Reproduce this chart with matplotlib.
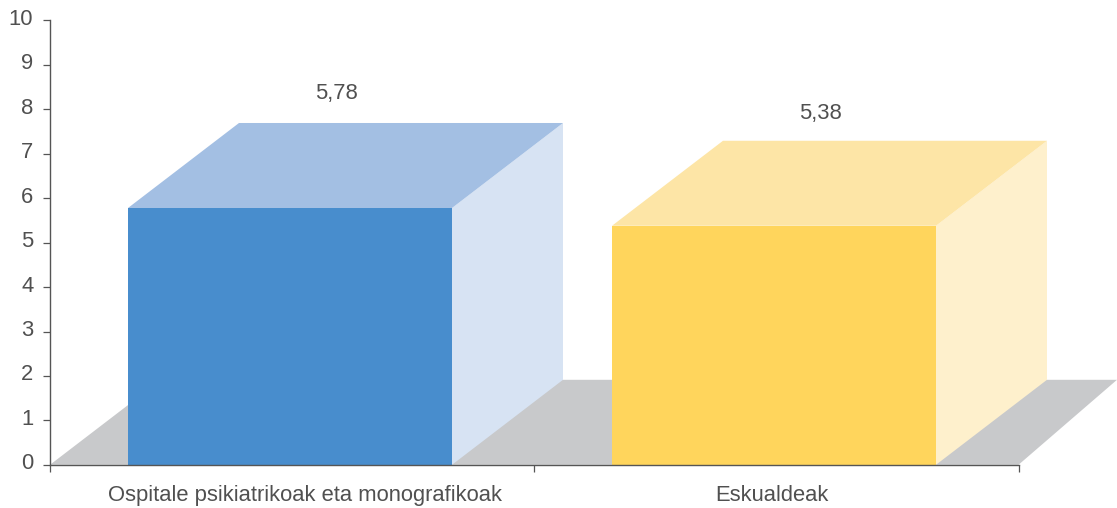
import matplotlib
matplotlib.use("Agg")
import matplotlib.pyplot as plt
from matplotlib.patches import Polygon
from matplotlib.transforms import ScaledTranslation

categories = ["Ospitale psikiatrikoak eta monografikoak", "Eskualdeak"]
values = [5.78, 5.38]
value_labels = ["5,78", "5,38"]
yticks = list(range(0, 11))

front_colors = ["#488DCD", "#FFD55C"]
top_colors = ["#A3BFE3", "#FDE5A6"]
side_colors = ["#D7E3F3", "#FEF0CC"]
floor_color = "#C8C9CB"
ink = "#505050"
axis_color = "#555555"

W, H = 1117, 508
x0, x1, y0, y1 = 50, 1018.5, 464.8, 20.5

plt.rcParams["font.family"] = ["Liberation Sans", "DejaVu Sans"]
fig = plt.figure(figsize=(W / 100, H / 100), dpi=100)
ax = fig.add_axes([x0 / W, 1 - y0 / H, (x1 - x0) / W, (y0 - y1) / H])
ax.set_xlim(0, 2)
ax.set_ylim(0, 10)

px_x = 2 / (x1 - x0)
px_y = 10 / (y0 - y1)
depth_x = 111 * px_x
depth_y = 85 * px_y
bar_w = 324 * px_x
centers = [(290 - x0) * px_x, (774 - x0) * px_x]
label_offsets = [0.66, 0.62]

# floor
ax.add_patch(Polygon([(0, 0), (depth_x, depth_y), ((1117 - x0) * px_x, depth_y), (2, 0)],
                     closed=True, fc=floor_color, ec="none", clip_on=False, zorder=1))

for c, v, lab, fc, tc, sc, off in zip(centers, values, value_labels, front_colors,
                                      top_colors, side_colors, label_offsets):
    l, r = c - bar_w / 2, c + bar_w / 2
    ax.add_patch(Polygon([(r, 0), (r + depth_x, depth_y), (r + depth_x, v + depth_y), (r, v)],
                         closed=True, fc=sc, ec="none", clip_on=False, zorder=2))
    ax.add_patch(Polygon([(l, v), (l + depth_x, v + depth_y), (r + depth_x, v + depth_y), (r, v)],
                         closed=True, fc=tc, ec="none", clip_on=False, zorder=2))
    ax.bar(c, v, width=bar_w, color=fc, zorder=3)
    ax.text(c + 46 * px_x, v + depth_y + off, lab, ha="center", va="center",
            fontsize=15.8, color=ink, zorder=5)

for s in ("top", "right"):
    ax.spines[s].set_visible(False)
for s in ("left", "bottom"):
    ax.spines[s].set_color(axis_color)
    ax.spines[s].set_linewidth(1.0)
    ax.spines[s].set_zorder(6)

ax.set_yticks(yticks)
ax.tick_params(axis="y", length=5, width=0.9, color=axis_color, labelsize=15.8,
               labelcolor=ink, pad=7)
shift = ScaledTranslation(0, 3.5 / 100, fig.dpi_scale_trans)
for t in ax.get_yticklabels():
    t.set_transform(t.get_transform() + shift)
ax.set_xticks([0, 1, 2])
ax.set_xticklabels([])
ax.tick_params(axis="x", length=5, width=0.9, color=axis_color)

label_x = [(304.5 - x0) * px_x, (772 - x0) * px_x]
for lx, cat in zip(label_x, categories):
    ax.text(lx, -0.70, cat, ha="center", va="center", fontsize=15.8, color=ink, clip_on=False)

fig.savefig("out.png", dpi=100)
